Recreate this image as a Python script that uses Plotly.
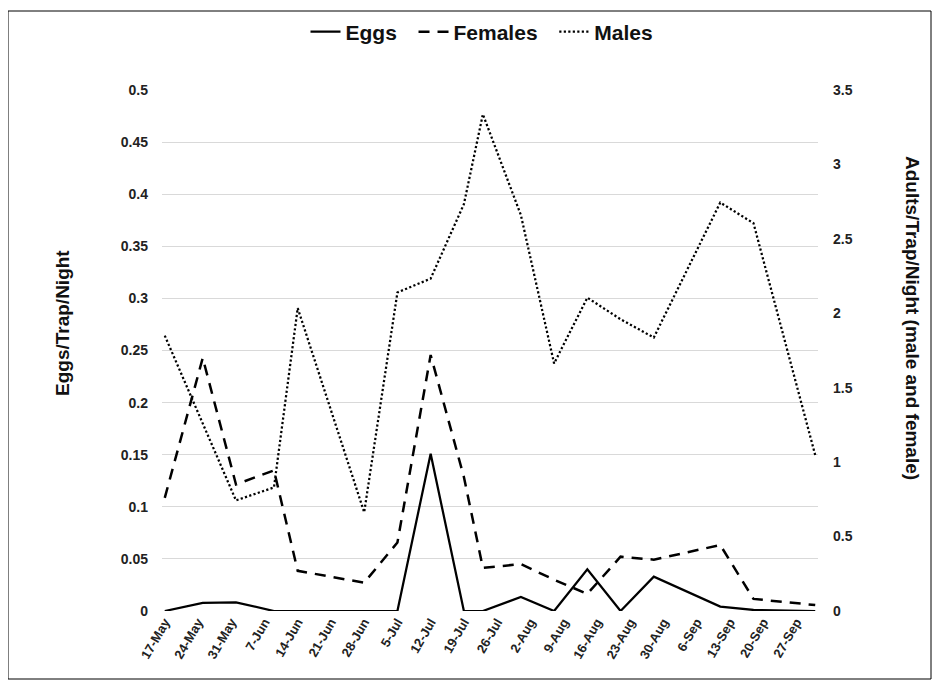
import plotly.graph_objects as go
import pandas as pd

# ---- data ----
sample_dates = ["2018-05-17", "2018-05-25", "2018-06-01", "2018-06-09", "2018-06-14",
                "2018-06-28", "2018-07-05", "2018-07-12", "2018-07-19", "2018-07-23",
                "2018-07-31", "2018-08-07", "2018-08-14", "2018-08-21", "2018-08-28",
                "2018-09-11", "2018-09-18", "2018-10-01"]
eggs = [0, 0.0077, 0.0083, 0, 0, 0, 0, 0.151, 0, 0, 0.0134, 0, 0.040, 0, 0.033,
        0.0042, 0.001, 0]
females = [0.76, 1.70, 0.85, 0.945, 0.27, 0.19, 0.46, 1.72, 0.90, 0.29, 0.315, 0.21,
           0.115, 0.365, 0.345, 0.443, 0.081, 0.04]
males = [1.85, 1.26, 0.743, 0.83, 2.035, 0.663, 2.14, 2.233, 2.733, 3.337, 2.66, 1.663,
         2.105, 1.96, 1.837, 2.744, 2.605, 1.047]

tick_dates = pd.date_range("2018-05-17", "2018-09-27", freq="7D")
tick_labels = [f"{d.day}-{d.strftime('%b')}" for d in tick_dates]

left_ticks = [round(0.05 * i, 2) for i in range(11)]
right_ticks = [0.5 * i for i in range(8)]

FONT = "Arial, Liberation Sans, sans-serif"
NB = "\u00a0"

# page offset: the html body has an 8px margin, plot area in page px: x 162..818, y 90..611
L, T, W, H = 154, 82, 656, 521

fig = go.Figure()
fig.add_trace(go.Scatter(x=sample_dates, y=eggs, name="Eggs" + NB * 2, mode="lines",
                         line=dict(color="black", width=2.25)))
fig.add_trace(go.Scatter(x=sample_dates, y=females, name="Females" + NB * 2, mode="lines",
                         yaxis="y2", line=dict(color="black", width=2.5, dash="11px,8px")))
fig.add_trace(go.Scatter(x=sample_dates, y=males, name="Males", mode="lines",
                         yaxis="y2", line=dict(color="black", width=2.25, dash="2.2px,2.3px")))

fig.update_layout(
    width=940, height=688,
    margin=dict(l=L, r=940 - L - W, t=T, b=688 - T - H),
    paper_bgcolor="white", plot_bgcolor="white",
    font=dict(family=FONT, color="#222"),
    showlegend=True,
    legend=dict(orientation="h", x=(482 - 162) / 656, xanchor="center",
                yref="container", y=1 - 24 / 688, yanchor="middle",
                bgcolor="rgba(0,0,0,0)",
                font=dict(size=21, weight="bold", color="#111"),
                itemwidth=30, tracegroupgap=0),
    xaxis=dict(type="date",
               range=["2018-05-16 10:00", "2018-10-01 14:00"],
               tickmode="array", tickvals=list(tick_dates), ticktext=tick_labels,
               tickangle=-60, showgrid=False, zeroline=False, showline=False,
               ticks="", tickfont=dict(size=13, weight="bold", color="#222")),
    yaxis=dict(range=[0, 0.5], tickmode="array", tickvals=left_ticks,
               ticktext=[f"{v:g}" for v in left_ticks],
               showgrid=True, gridcolor="#d9d9d9", gridwidth=1.2, zeroline=False,
               showline=False, ticks="", ticklabelstandoff=13,
               tickfont=dict(size=14, weight="bold", color="#222")),
    yaxis2=dict(range=[0, 3.5], overlaying="y", side="right", tickmode="array",
                tickvals=right_ticks, ticktext=[f"{v:g}" for v in right_ticks],
                showgrid=False, zeroline=False, showline=False, ticks="",
                ticklabelstandoff=14,
                tickfont=dict(size=14, weight="bold", color="#222")),
    shapes=[dict(type="rect", xref="paper", yref="paper",
                 x0=(8 - 162) / 656, x1=(931 - 162) / 656,
                 y0=(611 - 679) / 521, y1=(611 - 11) / 521,
                 line=dict(color="black", width=1), fillcolor="rgba(0,0,0,0)",
                 layer="below")],
    annotations=[
        dict(text="Eggs/Trap/Night", xref="paper", yref="paper",
             x=(62 - 162) / 656, y=(611 - 323) / 521, xanchor="center", yanchor="middle",
             textangle=-90, showarrow=False,
             font=dict(size=19, weight="bold", color="#111")),
        dict(text="Adults/Trap/Night (male and female)", xref="paper", yref="paper",
             x=(913 - 162) / 656, y=(611 - 318) / 521, xanchor="center", yanchor="middle",
             textangle=90, showarrow=False,
             font=dict(size=19, weight="bold", color="#111")),
    ],
)

fig.write_html("out.html")
